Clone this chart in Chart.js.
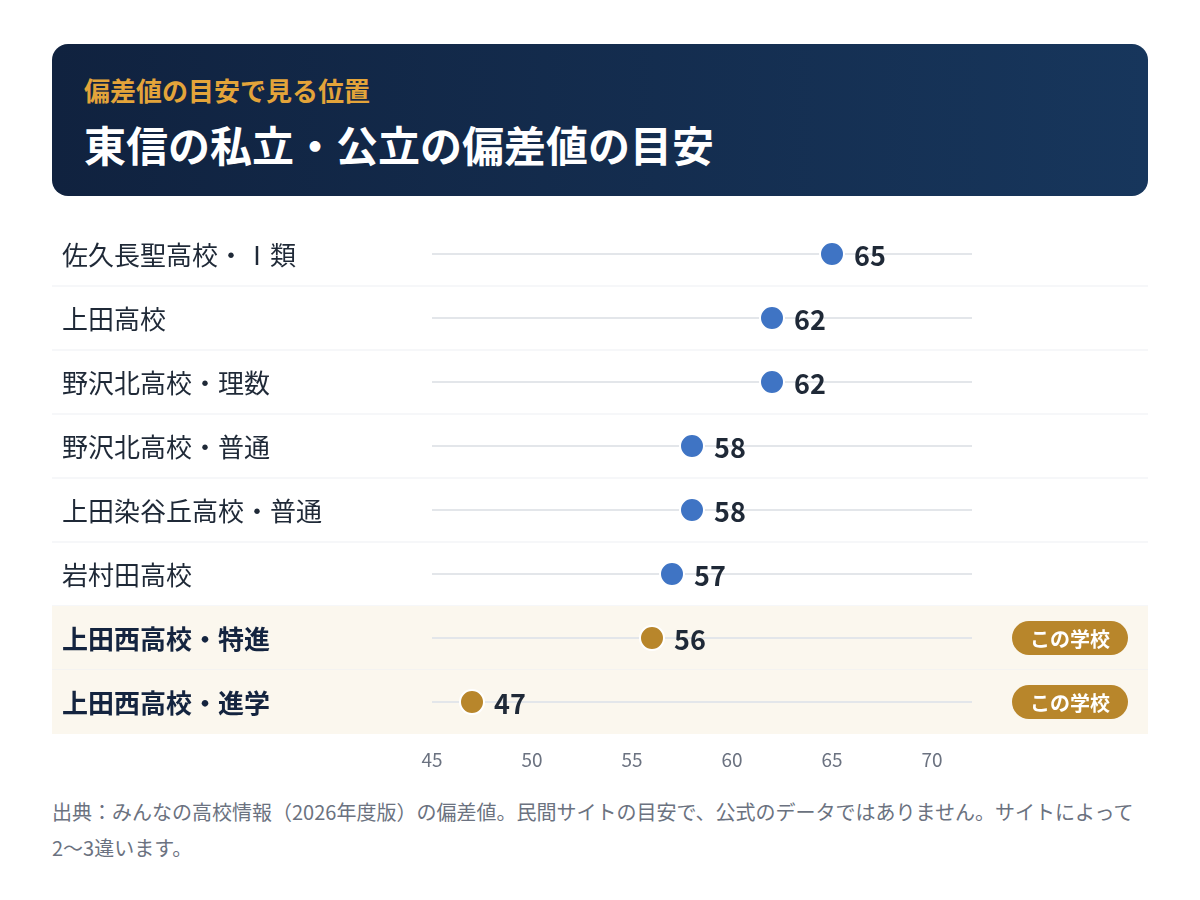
<!DOCTYPE html>
<html><head><meta charset="utf-8">
<script src="https://cdn.jsdelivr.net/npm/chart.js@4.4.1/dist/chart.umd.min.js"></script>
<style>
body{margin:0;background:#fff;font-family:"Noto Sans CJK JP","Noto Sans",sans-serif;}
#hdr{position:absolute;left:52px;top:44px;width:1096px;height:152px;border-radius:16px;background:linear-gradient(90deg,#10223f,#17365c);}
#sub{position:absolute;left:32px;top:28px;color:#e3a43a;font-size:26px;font-weight:700;line-height:36px;}
#ttl{position:absolute;left:32px;top:70px;color:#fff;font-size:42px;font-weight:700;line-height:60px;}
#wrap{position:absolute;left:52px;top:208px;width:1096px;height:574px;}
#note{position:absolute;left:52px;top:794px;width:1100px;color:#6b7280;font-size:20px;line-height:36px;}
</style></head><body>
<div id="hdr"><div id="sub">偏差値の目安で見る位置</div><div id="ttl">東信の私立・公立の偏差値の目安</div></div>
<div id="wrap"><canvas id="c"></canvas></div>
<div id="note">出典：みんなの高校情報（2026年度版）の偏差値。民間サイトの目安で、公式のデータではありません。サイトによって2〜3違います。</div>
<script>
const schools=["佐久長聖高校・Ⅰ類","上田高校","野沢北高校・理数","野沢北高校・普通","上田染谷丘高校・普通","岩村田高校","上田西高校・特進","上田西高校・進学"];
const scores=[65,62,62,58,58,57,56,47];
const isThis=[false,false,false,false,false,false,true,true];
const xTicks=[45,50,55,60,65,70];
const F='"Noto Sans CJK JP","Noto Sans",sans-serif';
const deco={id:'deco',
beforeDatasetsDraw(ch){const {ctx,scales:{x,y}}=ch;const W=ch.width;
 const h=Math.abs(y.getPixelForValue(1)-y.getPixelForValue(0));
 schools.forEach((s,i)=>{const cy=y.getPixelForValue(i);
  if(isThis[i]){ctx.fillStyle='#fbf7ee';ctx.fillRect(0,cy-h/2,W,h);}
  if(i<schools.length-1){ctx.fillStyle='#eef0f3';ctx.fillRect(0,cy+h/2-0.5,W,1);}
  ctx.strokeStyle='#e3e6ea';ctx.lineWidth=2;ctx.beginPath();ctx.moveTo(x.getPixelForValue(45),cy);ctx.lineTo(x.getPixelForValue(72),cy);ctx.stroke();
  ctx.fillStyle=isThis[i]?'#14243f':'#1f2937';ctx.font=(isThis[i]?'700 ':'400 ')+'26px '+F;ctx.textBaseline='middle';ctx.textAlign='left';ctx.fillText(s,10,cy+1);
  if(isThis[i]){const bx=960,bw=116,bh=34;ctx.fillStyle='#b8862b';ctx.beginPath();ctx.roundRect(bx,cy-bh/2,bw,bh,17);ctx.fill();
   ctx.fillStyle='#fff';ctx.font='700 20px '+F;ctx.textAlign='center';ctx.fillText('この学校',bx+bw/2,cy+1);}
 });},
afterDatasetsDraw(ch){const {ctx,scales:{x,y}}=ch;
 scores.forEach((v,i)=>{ctx.fillStyle='#1f2937';ctx.font='700 27px '+F;ctx.textAlign='left';ctx.textBaseline='middle';ctx.fillText(String(v),x.getPixelForValue(v)+22,y.getPixelForValue(i)+2);});}
};
new Chart(document.getElementById('c'),{type:'scatter',
data:{datasets:[{data:scores.map((v,i)=>({x:v,y:i})),pointRadius:12,pointHoverRadius:12,borderWidth:2,borderColor:'#fff',
 backgroundColor:isThis.map(t=>t?'#b8862b':'#3f74c4')}]},
options:{responsive:true,maintainAspectRatio:false,animation:false,
 layout:{padding:{left:380,right:176,top:0,bottom:0}},
 plugins:{legend:{display:false},tooltip:{enabled:false}},
 scales:{
  x:{type:'linear',min:45,max:72,border:{display:false},grid:{display:false},
   afterFit(s){s.height=48;},
   afterBuildTicks(s){s.ticks=xTicks.map(v=>({value:v}));},
   ticks:{padding:6,color:'#6b7280',font:{size:19,family:F}}},
  y:{type:'linear',min:-0.5,max:schools.length-0.5,reverse:true,display:false}
 }},plugins:[deco]});
</script></body></html>
